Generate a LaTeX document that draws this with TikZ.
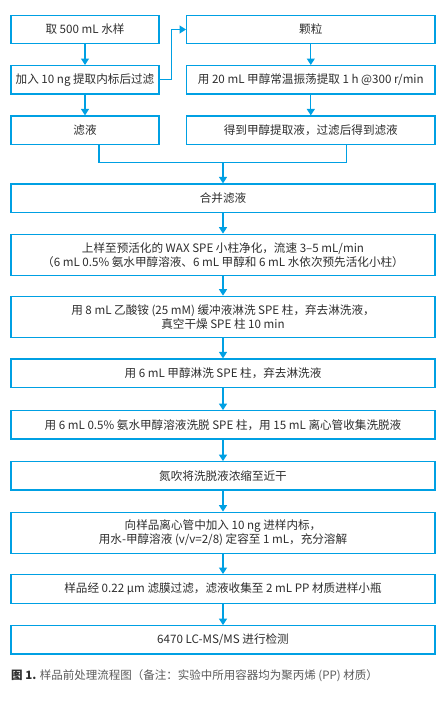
\documentclass[tikz,border=0pt]{standalone}
\usepackage{fontspec}
\newfontfamily\cjk{Noto Sans CJK SC}
\usetikzlibrary{arrows.meta,calc}
\definecolor{flowblue}{RGB}{0,160,227}
\definecolor{txt}{RGB}{45,45,45}
\definecolor{captxt}{RGB}{90,90,90}
\tikzset{
  box/.style={draw=flowblue,line width=1.3pt,text=txt,font=\cjk\fontsize{11.6}{13.7}\selectfont,
    align=center,inner sep=0pt,anchor=center},
  narrow/.style={box,minimum width=148pt},
  wide/.style={box,minimum width=248.3pt},
  full/.style={box,minimum width=424pt},
  link/.style={draw=flowblue,line width=1.3pt},
  arrow/.style={link,-{Triangle[width=8pt,length=6.5pt]}}
}
\begin{document}
\begin{tikzpicture}[x=1pt,y=-1pt]
\useasboundingbox (0,0) rectangle (441,704);
\node[narrow,minimum height=27.7pt] (L1) at (85,29.5) {取 500 mL 水样};
\node[narrow,minimum height=28.3pt] (L2) at (85,79.8) {加入 10 ng 提取内标后过滤};
\node[narrow,minimum height=28.3pt] (L3) at (85,130.2) {滤液};
\node[wide,minimum height=27.7pt] (R1) at (310.8,29.5) {颗粒};
\node[wide,minimum height=28.3pt] (R2) at (310.8,79.8) {用 20 mL 甲醇常温振荡提取 1 h @300 r/min};
\node[wide,minimum height=28.3pt] (R3) at (310.8,130.2) {得到甲醇提取液，过滤后得到滤液};
\node[full,minimum height=28.3pt] (B1) at (223,198.2) {合并滤液};
\node[full,minimum height=41.4pt] (B2) at (223,255) {上样至预活化的 WAX SPE 小柱净化，流速 3–5 mL/min\\（6 mL 0.5\% 氨水甲醇溶液、6 mL 甲醇和 6 mL 水依次预先活化小柱）};
\node[full,minimum height=41pt] (B3) at (223,316.8) {用 8 mL 乙酸铵 (25 mM) 缓冲液淋洗 SPE 柱，弃去淋洗液，\\真空干燥 SPE 柱 10 min};
\node[full,minimum height=28.3pt] (B4) at (223,373.2) {用 6 mL 甲醇淋洗 SPE 柱，弃去淋洗液};
\node[full,minimum height=28.3pt] (B5) at (223,424.9) {用 6 mL 0.5\% 氨水甲醇溶液洗脱 SPE 柱，用 15 mL 离心管收集洗脱液};
\node[full,minimum height=28.3pt] (B6) at (223,475.9) {氮吹将洗脱液浓缩至近干};
\node[full,minimum height=41pt] (B7) at (223,532.8) {向样品离心管中加入 10 ng 进样内标，\\用水-甲醇溶液 (v/v=2/8) 定容至 1 mL，充分溶解};
\node[full,minimum height=28.6pt] (B8) at (223,589) {样品经 0.22 μm 滤膜过滤，滤液收集至 2 mL PP 材质进样小瓶};
\node[full,minimum height=28.3pt] (B9) at (223,639.9) {6470 LC-MS/MS 进行检测};
\node[anchor=west,inner sep=0pt,font=\cjk\fontsize{11.5}{13}\selectfont,text=captxt] (cap) at (11,675.7)
  {{\bfseries\color{txt}图 1.} 样品前处理流程图（备注：实验中所用容器均为聚丙烯 (PP) 材质）};
% connectors
\draw[arrow] (L1) -- (L2);
\draw[arrow] (L2) -- (L3);
\draw[arrow] (R1) -- (R2);
\draw[arrow] (R2) -- (R3);
\draw[arrow] (L2.east) -- ++(11.7,0) |- (R1.west);
\coordinate (j) at (223,162.3);
\draw[link] ($(L3.south)+(14,0)$) |- (j);
\draw[link] ($(R3.south)+(35.9,0)$) |- (j);
\draw[arrow] (j) -- (B1);
\draw[arrow] (B1) -- (B2);
\draw[arrow] (B2) -- (B3);
\draw[arrow] (B3) -- (B4);
\draw[arrow] (B4) -- (B5);
\draw[arrow] (B5) -- (B6);
\draw[arrow] (B6) -- (B7);
\draw[arrow] (B7) -- (B8);
\draw[arrow] (B8) -- (B9);
\end{tikzpicture}
\end{document}
